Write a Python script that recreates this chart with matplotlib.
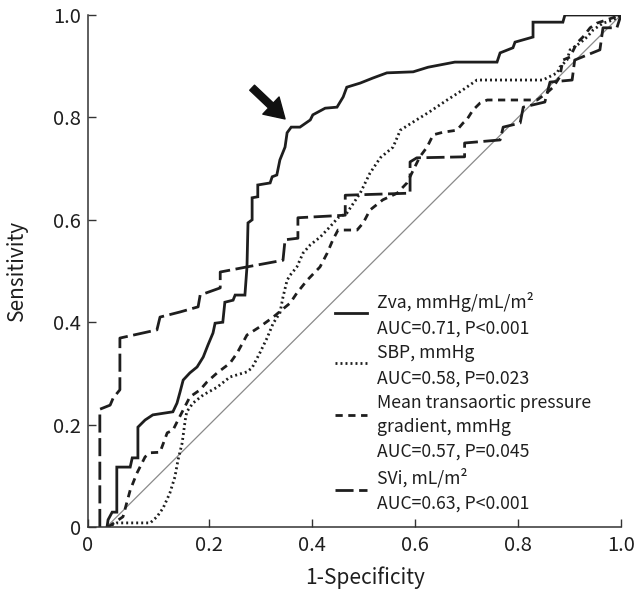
import matplotlib
matplotlib.use("Agg")
import matplotlib.pyplot as plt
from matplotlib.lines import Line2D

plt.rcParams['font.family'] = ['Noto Sans CJK KR', 'DejaVu Sans']

# ROC curves (x = 1-Specificity, y = Sensitivity)
zva_x = [0.001, 0.003, 0.011, 0.020, 0.020, 0.046, 0.050, 0.061, 0.061, 0.075, 0.090, 0.129, 0.137,
         0.143, 0.149, 0.162, 0.176, 0.188, 0.197, 0.207, 0.211, 0.226, 0.230, 0.246, 0.250, 0.269,
         0.273, 0.275, 0.283, 0.283, 0.294, 0.294, 0.318, 0.322, 0.331, 0.337, 0.347, 0.351, 0.359,
         0.376, 0.396, 0.401, 0.425, 0.448, 0.460, 0.467, 0.493, 0.518, 0.545, 0.596, 0.625, 0.677,
         0.759, 0.765, 0.790, 0.794, 0.829, 0.829, 0.887, 0.891, 1.0]
zva_y = [0.0, 0.014, 0.029, 0.029, 0.117, 0.117, 0.135, 0.135, 0.195, 0.209, 0.219, 0.225, 0.242,
         0.264, 0.287, 0.301, 0.3125, 0.332, 0.355, 0.379, 0.398, 0.400, 0.439, 0.443, 0.453, 0.453,
         0.508, 0.594, 0.600, 0.643, 0.645, 0.668, 0.672, 0.684, 0.6875, 0.717, 0.742, 0.770, 0.781,
         0.781, 0.795, 0.805, 0.818, 0.820, 0.840, 0.859, 0.867, 0.877, 0.887, 0.889, 0.898, 0.908,
         0.908, 0.926, 0.936, 0.947, 0.957, 0.986, 0.986, 1.0, 1.0]

sbp_x = [0.001, 0.020, 0.085, 0.098, 0.110, 0.123, 0.133, 0.139, 0.147, 0.153, 0.156, 0.168, 0.188,
         0.215, 0.240, 0.273, 0.283, 0.298, 0.312, 0.324, 0.337, 0.343, 0.351, 0.357, 0.370, 0.382,
         0.396, 0.415, 0.434, 0.450, 0.467, 0.493, 0.512, 0.532, 0.557, 0.571, 0.596, 0.628, 0.662,
         0.693, 0.720, 0.848, 0.876, 0.881, 0.895, 0.901, 0.920, 0.934, 0.946, 0.965, 0.984, 1.0]
sbp_y = [0.0, 0.008, 0.008, 0.020, 0.037, 0.066, 0.098, 0.131, 0.164, 0.209, 0.225, 0.242, 0.258,
         0.273, 0.293, 0.303, 0.311, 0.340, 0.369, 0.398, 0.418, 0.449, 0.482, 0.492, 0.508, 0.535,
         0.551, 0.566, 0.586, 0.604, 0.613, 0.652, 0.691, 0.721, 0.742, 0.775, 0.791, 0.811, 0.834,
         0.854, 0.873, 0.873, 0.887, 0.898, 0.912, 0.932, 0.945, 0.957, 0.971, 0.984, 0.990, 1.0]

mtpg_x = [0.003, 0.032, 0.046, 0.059, 0.075, 0.085, 0.104, 0.118, 0.129, 0.139, 0.162, 0.182, 0.195,
          0.215, 0.240, 0.254, 0.273, 0.298, 0.324, 0.357, 0.370, 0.390, 0.415, 0.429, 0.440, 0.450,
          0.487, 0.499, 0.512, 0.537, 0.565, 0.584, 0.609, 0.623, 0.635, 0.654, 0.681, 0.693, 0.700,
          0.712, 0.726, 0.740, 0.837, 0.856, 0.868, 0.881, 0.887, 0.901, 0.914, 0.926, 0.940, 0.953, 1.0]
mtpg_y = [0.0, 0.020, 0.072, 0.105, 0.137, 0.145, 0.146, 0.184, 0.189, 0.209, 0.254, 0.268, 0.283,
          0.301, 0.320, 0.340, 0.375, 0.391, 0.410, 0.4375, 0.457, 0.482, 0.508, 0.535, 0.561, 0.580,
          0.580, 0.594, 0.619, 0.639, 0.652, 0.672, 0.723, 0.742, 0.766, 0.771, 0.775, 0.789, 0.795,
          0.814, 0.828, 0.834, 0.834, 0.848, 0.859, 0.879, 0.912, 0.918, 0.945, 0.957, 0.975, 0.984, 1.0]

svi_x = [-0.013, -0.013, 0.007, 0.013, 0.026, 0.026, 0.098, 0.104, 0.143, 0.178, 0.182, 0.221, 0.221,
         0.273, 0.343, 0.347, 0.372, 0.372, 0.464, 0.464, 0.590, 0.590, 0.603, 0.696, 0.696, 0.765,
         0.771, 0.804, 0.810, 0.852, 0.862, 0.905, 0.910, 0.959, 0.965, 0.992, 1.0]
svi_y = [0.0, 0.230, 0.238, 0.252, 0.268, 0.369, 0.385, 0.410, 0.420, 0.430, 0.453, 0.467, 0.498,
         0.508, 0.521, 0.561, 0.564, 0.604, 0.609, 0.648, 0.652, 0.713, 0.721, 0.723, 0.750, 0.756,
         0.781, 0.789, 0.820, 0.830, 0.869, 0.873, 0.912, 0.932, 0.975, 0.975, 1.0]

legend_labels = [["Zva, mmHg/mL/m²", "AUC=0.71, P<0.001"],
                 ["SBP, mmHg", "AUC=0.58, P=0.023"],
                 ["Mean transaortic pressure", "gradient, mmHg", "AUC=0.57, P=0.045"],
                 ["SVi, mL/m²", "AUC=0.63, P<0.001"]]

xticks = [0.2, 0.4, 0.6, 0.8, 1.0]
xtick_labels = ["0", "0.2", "0.4", "0.6", "0.8", "1.0"]
yticks = [0.0, 0.2, 0.4, 0.6, 0.8, 1.0]
ytick_labels = ["0", "0.2", "0.4", "0.6", "0.8", "1.0"]

W, H = 636, 593
fig = plt.figure(figsize=(W / 100, H / 100), dpi=100)
ax = fig.add_axes([88 / W, 1 - 527 / H, (621 - 88) / W, 512 / H])
xmin = -0.036
ax.set_xlim(xmin, 1.0)
ax.set_ylim(0, 1.0)

ink = '#1e1e1e'
ax.plot([0, 1], [0, 1], color='#8a8a8a', lw=0.9)
lw = 2.0
dot = (0, (0.7, 1.1))
sdash = (0, (2.6, 2.0))
ldash = (0, (6.5, 2.0))
ax.plot(zva_x, zva_y, color=ink, lw=lw, solid_joinstyle='miter')
ax.plot(sbp_x, sbp_y, color=ink, lw=lw, linestyle=dot)
ax.plot(mtpg_x, mtpg_y, color=ink, lw=lw, linestyle=sdash)
ax.plot(svi_x, svi_y, color=ink, lw=lw, linestyle=ldash)

ax.annotate("", xy=(0.347, 0.797), xytext=(0.283, 0.858),
            arrowprops=dict(facecolor='#111111', edgecolor='#111111', width=5, headwidth=17,
                            headlength=14, shrink=0))

for s in ['top', 'right']:
    ax.spines[s].set_visible(False)
for s in ['left', 'bottom']:
    ax.spines[s].set_color('#333333')
    ax.spines[s].set_linewidth(1.1)

ax.set_xticks([xmin] + xticks)
ax.set_xticklabels(xtick_labels)
ax.set_yticks(yticks)
ax.set_yticklabels(ytick_labels)
ax.tick_params(direction='in', length=6, width=1.0, color='#333333', labelsize=14.5,
               labelcolor=ink, pad=5)
ax.tick_params(axis='x', pad=6)
ax.set_xlabel("1-Specificity", fontsize=15, color=ink, va='center')
ax.set_ylabel("Sensitivity", fontsize=15, color=ink, va='center')
ax.xaxis.set_label_coords((365 - 88) / 533, -(578 - 527) / 512)
ax.yaxis.set_label_coords((17 - 88) / 533, (527 - 270) / 512)

# legend drawn manually (positions in figure pixels)
styles = ['-', dot, sdash, ldash]
sample_y = [313, 363, 415, 490]
line_centers = [[302, 327], [352, 377], [402, 426, 450], [477, 502]]
for st, sy, cs, labs in zip(styles, sample_y, line_centers, legend_labels):
    fig.add_artist(Line2D([335 / W, 367 / W], [1 - sy / H, 1 - sy / H], color=ink, lw=lw,
                          linestyle=st, transform=fig.transFigure))
    for c, t in zip(cs, labs):
        fig.text(377 / W, 1 - (c + 6.5) / H, t, fontsize=12.7, color=ink, va='baseline', ha='left')

fig.savefig("out.png", dpi=100)
